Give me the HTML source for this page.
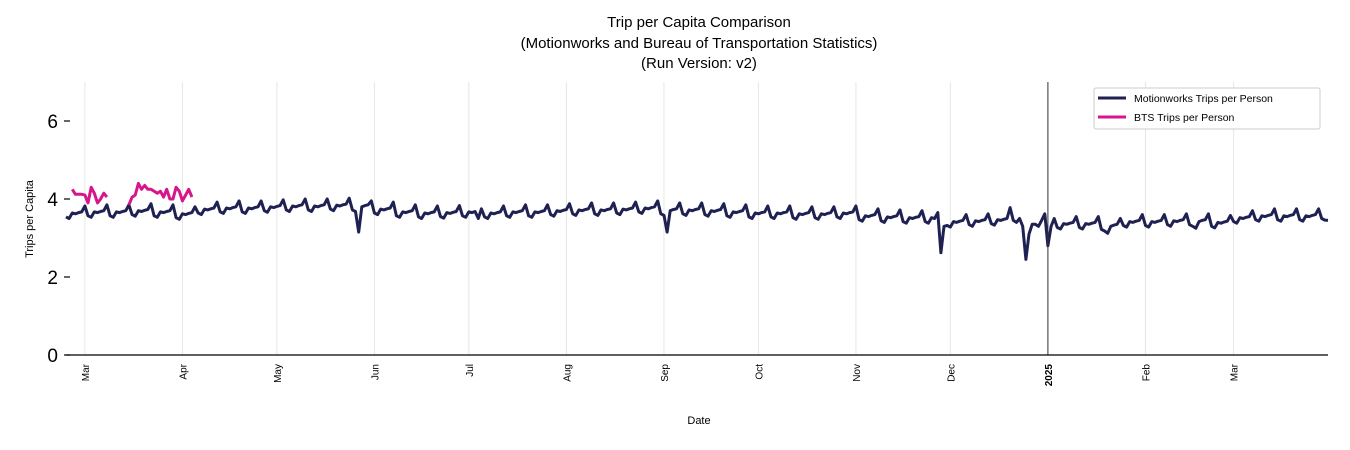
<!DOCTYPE html>
<html><head><meta charset="utf-8"><style>
body{margin:0;background:#fff;}
svg{display:block;font-family:"Liberation Sans","DejaVu Sans",sans-serif;}
</style></head><body>
<svg id="chart" width="1350" height="450">
<text x="699" y="27" text-anchor="middle" font-size="15">Trip per Capita Comparison</text>
<text x="699" y="48" text-anchor="middle" font-size="15">(Motionworks and Bureau of Transportation Statistics)</text>
<text x="699" y="68" text-anchor="middle" font-size="15">(Run Version: v2)</text>
<g id="grid"></g><g id="series"></g><g id="axes"></g>
<text x="699" y="424" text-anchor="middle" font-size="11">Date</text>
<text transform="translate(33,219) rotate(-90)" text-anchor="middle" font-size="11">Trips per Capita</text>
<g>
<rect x="1094" y="88" width="226" height="41" fill="#fff" stroke="#ccc" rx="2"/>
<line x1="1098" y1="98" x2="1126" y2="98" stroke="#1f2152" stroke-width="3"/>
<text x="1134" y="102" font-size="10.5">Motionworks Trips per Person</text>
<line x1="1098" y1="117" x2="1126" y2="117" stroke="#d6168a" stroke-width="3"/>
<text x="1134" y="121" font-size="10.5">BTS Trips per Person</text>
</g>
</svg>
<script>
const startDate = "2024-02-24";
const motionworks = [
3.54,3.50,3.64,3.62,3.65,3.67,3.82,
3.57,3.53,3.67,3.65,3.68,3.70,3.85,
3.57,3.53,3.67,3.65,3.68,3.70,3.85,
3.60,3.56,3.70,3.68,3.71,3.73,3.88,
3.57,3.53,3.67,3.65,3.68,3.70,3.85,
3.52,3.48,3.62,3.60,3.63,3.65,3.80,
3.64,3.60,3.74,3.72,3.75,3.77,3.92,
3.67,3.63,3.77,3.75,3.78,3.80,3.95,
3.67,3.63,3.77,3.75,3.78,3.80,3.95,
3.70,3.66,3.80,3.78,3.81,3.83,3.98,
3.72,3.68,3.82,3.80,3.83,3.85,4.00,
3.72,3.68,3.82,3.80,3.83,3.85,4.00,
3.74,3.70,3.84,3.82,3.85,3.87,4.02,
3.72,3.68,3.15,3.80,3.83,3.85,3.95,
3.64,3.60,3.74,3.72,3.75,3.77,3.92,
3.57,3.53,3.67,3.65,3.68,3.70,3.85,
3.54,3.50,3.64,3.62,3.65,3.67,3.82,
3.55,3.51,3.65,3.63,3.66,3.68,3.83,
3.57,3.53,3.67,3.65,3.68,3.50,3.75,
3.54,3.50,3.64,3.62,3.65,3.67,3.82,
3.57,3.53,3.67,3.65,3.68,3.70,3.85,
3.57,3.53,3.67,3.65,3.68,3.70,3.85,
3.60,3.56,3.70,3.68,3.71,3.73,3.88,
3.62,3.58,3.72,3.70,3.73,3.75,3.90,
3.62,3.58,3.72,3.70,3.73,3.75,3.90,
3.64,3.60,3.74,3.72,3.75,3.77,3.92,
3.67,3.63,3.77,3.75,3.78,3.80,3.95,
3.62,3.58,3.15,3.70,3.73,3.75,3.90,
3.62,3.58,3.72,3.70,3.73,3.75,3.90,
3.60,3.56,3.70,3.68,3.71,3.73,3.88,
3.57,3.53,3.67,3.65,3.68,3.70,3.85,
3.54,3.50,3.64,3.62,3.65,3.67,3.82,
3.54,3.50,3.64,3.62,3.65,3.67,3.82,
3.52,3.48,3.62,3.60,3.63,3.65,3.80,
3.52,3.48,3.62,3.60,3.63,3.65,3.80,
3.54,3.50,3.64,3.62,3.65,3.67,3.82,
3.47,3.43,3.57,3.55,3.58,3.60,3.75,
3.44,3.40,3.54,3.52,3.55,3.57,3.72,
3.42,3.38,3.52,3.50,3.53,3.55,3.70,
3.42,3.38,3.52,3.50,3.65,2.62,3.30,
3.32,3.28,3.42,3.40,3.43,3.45,3.60,
3.34,3.30,3.44,3.42,3.45,3.47,3.62,
3.37,3.33,3.47,3.45,3.48,3.50,3.78,
3.45,3.40,3.50,3.30,2.45,3.10,3.35,
3.35,3.30,3.45,3.62,2.80,3.30,3.50,
3.27,3.23,3.37,3.35,3.38,3.40,3.55,
3.27,3.23,3.37,3.35,3.38,3.40,3.55,
3.22,3.18,3.12,3.30,3.33,3.35,3.50,
3.32,3.28,3.42,3.40,3.43,3.45,3.60,
3.32,3.28,3.42,3.40,3.43,3.45,3.60,
3.34,3.30,3.44,3.42,3.45,3.47,3.62,
3.34,3.30,3.25,3.42,3.45,3.47,3.62,
3.30,3.26,3.40,3.38,3.41,3.43,3.58,
3.42,3.38,3.52,3.50,3.53,3.55,3.70,
3.47,3.43,3.57,3.55,3.58,3.60,3.75,
3.47,3.43,3.57,3.55,3.58,3.60,3.75,
3.47,3.43,3.57,3.55,3.58,3.60,3.75,
3.50,3.46,3.45
];
const btsStart = "2024-02-26";
const bts = [4.25,4.12,4.12,4.12,4.10,3.90,4.30,4.15,3.90,4.00,4.15,4.05,null,
null,null,null,null,null,
3.85,4.05,4.10,4.40,4.25,4.35,4.25,4.25,4.20,4.15,4.20,4.05,4.25,4.00,4.00,4.30,4.20,3.95,4.10,4.25,4.05];
const yTicks = [0,2,4,6];
const monthTicks = ["2024-03-01","2024-04-01","2024-05-01","2024-06-01","2024-07-01","2024-08-01","2024-09-01","2024-10-01","2024-11-01","2024-12-01","2025-01-01","2025-02-01","2025-03-01"];
const monthLabels = ["Mar","Apr","May","Jun","Jul","Aug","Sep","Oct","Nov","Dec","2025","Feb","Mar"];

const NS="http://www.w3.org/2000/svg";
const X0=66,X1=1328,Y0=355,YTOP=82,YMAX=7;
const t0=Date.parse(startDate);
const dayIdx=d=>(Date.parse(d)-t0)/86400000;
const xs=i=>X0+i*(X1-X0)/401;
const ys=v=>Y0-v/YMAX*(Y0-YTOP);
function mk(tag,attrs,parent){const e=document.createElementNS(NS,tag);for(const k in attrs)e.setAttribute(k,attrs[k]);parent.appendChild(e);return e;}
const grid=document.getElementById('grid'),axes=document.getElementById('axes'),ser=document.getElementById('series');
monthTicks.forEach((d,k)=>{
  const x=xs(dayIdx(d));
  const is2025=monthLabels[k]==="2025";
  const g=mk('line',{x1:x,y1:YTOP,x2:x,y2:Y0,stroke:is2025?'#333':'#e6e6e6','stroke-width':1},is2025?axes:grid);
  
  
  const t=mk('text',{transform:`translate(${x+4},${364}) rotate(-90)`,'text-anchor':'end','font-size':10,'font-weight':is2025?'bold':'normal'},axes);
  t.textContent=monthLabels[k];
  
  
});
yTicks.forEach(v=>{
  const y=ys(v);
  const t=mk('text',{x:58,y:y+7,'text-anchor':'end','font-size':19},axes);
  t.textContent=v;
  
  
  const l=mk('line',{x1:64,y1:y,x2:70,y2:y,stroke:'#000','stroke-width':1.2},axes);
  
  
});
const base=mk('line',{x1:X0,y1:Y0,x2:X1,y2:Y0,stroke:'#000','stroke-width':1.3},axes);


function pathOf(arr,off){let d='',pen=false;arr.forEach((v,i)=>{if(v==null){pen=false;return;}d+=(pen?'L':'M')+xs(i+off).toFixed(1)+','+ys(v).toFixed(1);pen=true;});return d;}
const p1=mk('path',{d:pathOf(motionworks,0),fill:'none',stroke:'#1f2152','stroke-width':3,'stroke-linejoin':'round'},ser);


const p2=mk('path',{d:pathOf(bts,dayIdx(btsStart)),fill:'none',stroke:'#d6168a','stroke-width':3,'stroke-linejoin':'round'},ser);


</script>
</body></html>
